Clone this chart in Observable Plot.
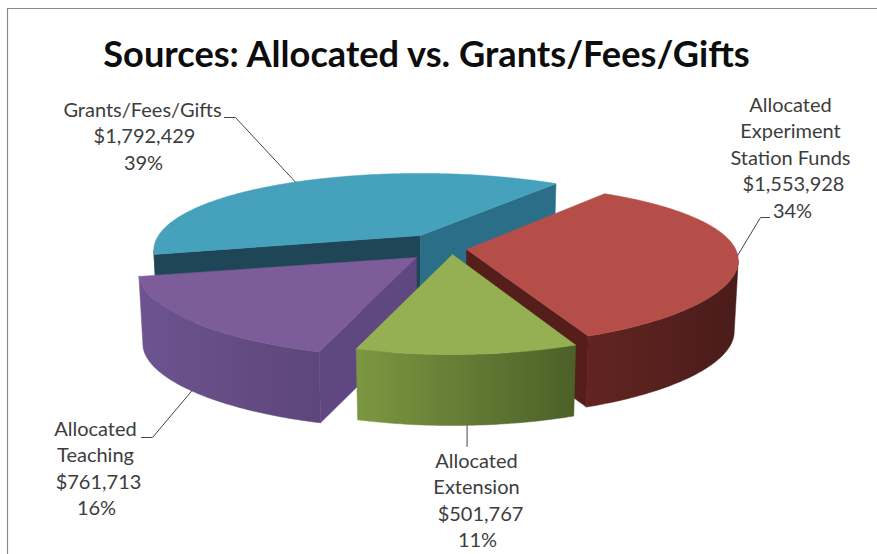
<!DOCTYPE html>
<html>
<head>
<meta charset="utf-8">
<script src="https://cdn.jsdelivr.net/npm/d3@7"></script>
<script src="https://cdn.jsdelivr.net/npm/@observablehq/plot@0.6"></script>
<style>html,body{margin:0;padding:0;background:#fff}svg{display:block}</style>
</head>
<body>
<div id="chart"></div>
<script>
// ---- data ----
const categories = ["Allocated Experiment Station Funds", "Allocated Extension", "Allocated Teaching", "Grants/Fees/Gifts"];
const amounts = [1553928, 501767, 761713, 1792429];
const percents = ["34%", "11%", "16%", "39%"];
const nameLines = [["Allocated", "Experiment", "Station Funds"], ["Allocated", "Extension"], ["Allocated", "Teaching"], ["Grants/Fees/Gifts"]];
const titleText = "Sources: Allocated vs. Grants/Fees/Gifts";

// ---- layout and style of the 3-D pie ----
const W = 877, H = 554;
const startAngle = -53.5;         // first slice start, degrees clockwise from 3 o'clock
const RY = 76.6, PERSP_Y = 0.234, PERSP_X = 0.187, DEPTH = 71, BOTTOM_SHRINK = 0.985;
const radiusX = [267, 270, 273, 262];
const arcLift = [-4, 0, 0, 0];    // vertical shift of a slice's rim relative to its apex
const apex = [[466, 249], [452, 254], [416, 257], [420, 235]];
const topFill = ["#b54e48", "#94b053", "#7c5c99", "#46a1bd"];
const wallFrom = ["#632421", "#7c9741", "#6d5390", "#1f4a5a"];
const wallTo = ["#491c1a", "#4c6028", "#5d4679", "#1f4a5a"];
const startFace = ["#561e1b", "#5c7030", "#5f4781", "#1e4656"];
const endFace = ["#561e1b", "#5c7030", "#5f4781", "#2b6e88"];
const labelPos = [[790, 105], [476, 461], [95, 429], [142, 110]];
const lineOffsets = [[0, 0, 0, 3, 2], [0, 0, 4, 1], [0, 0, 3, 1], [0, 2, 1]];
const leaderMid = [[760, 217], [null, 446], [152, 437], [235, 117]];
const leaderEnd = [[769, 217], [null, 446], [141, 437], [224, 117]];

// ---- geometry from the values ----
const total = d3.sum(amounts);
const project = (i, deg, down = 0) => {
  const a = deg * Math.PI / 180, u = Math.cos(a), v = Math.sin(a);
  const k = down ? BOTTOM_SHRINK : 1;
  return {
    x: apex[i][0] + k * radiusX[i] * u / (1 - PERSP_X * v),
    y: apex[i][1] + arcLift[i] + RY * v / (1 - PERSP_Y * v) + down
  };
};
let cursor = startAngle;
const slices = amounts.map((value, i) => {
  const a0 = cursor, a1 = cursor + value / total * 360;
  cursor = a1;
  return {i, a0, a1, mid: (a0 + a1) / 2};
});
const arc = (i, a0, a1, down = 0) => {
  const n = Math.max(2, Math.ceil(Math.abs(a1 - a0)));
  return d3.range(n + 1).map(k => project(i, a0 + (a1 - a0) * k / n, down));
};
const centre = i => ({x: apex[i][0], y: apex[i][1]});

const polyMark = (pts, fill) => Plot.line([...pts, pts[0]], {x: "x", y: "y", fill, stroke: fill, strokeWidth: 0.5, curve: "linear"});

// the rim turns away from the viewer where its projected x is largest
const silhouette = Math.asin(PERSP_X) * 180 / Math.PI;

function sliceMarks(s) {
  const {i, a0, a1} = s, out = [];
  for (const [lo, hi] of [[silhouette, 180 - silhouette], [360 + silhouette, 540 - silhouette]]) {
    const f = Math.max(a0, lo), t = Math.min(a1, hi);
    if (t > f) out.push(polyMark([...arc(i, f, t), ...arc(i, f, t, DEPTH).reverse()], `url(#wall${i})`));
  }
  // cut faces
  const c = centre(i), cb = {x: c.x, y: c.y + DEPTH};
  if (Math.cos(a0 * Math.PI / 180) < 0) out.push(polyMark([c, project(i, a0), project(i, a0, DEPTH), cb], startFace[i]));
  if (Math.cos(a1 * Math.PI / 180) > 0) out.push(polyMark([c, project(i, a1), project(i, a1, DEPTH), cb], endFace[i]));
  // top
  out.push(polyMark([c, ...arc(i, a0, a1)], topFill[i]));
  return out;
}

// painter's order: back slice first, front slice last
const drawOrder = [3, 0, 2, 1];

// ---- labels ----
const labelRows = categories.flatMap((c, i) => {
  const lines = [...nameLines[i], "$" + d3.format(",")(amounts[i]), percents[i]];
  return lines.map((text, k) => ({text, x: labelPos[i][0] + lineOffsets[i][k], y: labelPos[i][1] + k * 26.4}));
});
const leaders = slices.flatMap(s => {
  const front = Math.sin(s.mid * Math.PI / 180) > 0.3;
  const p = project(s.i, s.mid, front ? DEPTH : 0);
  const m = leaderMid[s.i], e = leaderEnd[s.i];
  return [
    {id: s.i, x: p.x, y: p.y},
    {id: s.i, x: m[0] ?? p.x, y: m[1]},
    {id: s.i, x: e[0] ?? p.x, y: e[1]}
  ];
});

const defs = () => {
  const d = d3.create("svg:defs");
  topFill.forEach((_, i) => {
    const g = d.append("linearGradient").attr("id", `wall${i}`).attr("x1", 0).attr("x2", 1).attr("y1", 0).attr("y2", 0);
    g.append("stop").attr("offset", 0).attr("stop-color", wallFrom[i]);
    g.append("stop").attr("offset", 1).attr("stop-color", wallTo[i]);
  });
  return d.node();
};

const chart = Plot.plot({
  width: W, height: H, margin: 0,
  style: {background: "#fff", fontFamily: "Lato, sans-serif"},
  x: {domain: [0, W], range: [0, W], axis: null},
  y: {domain: [0, H], range: [0, H], axis: null},
  marks: [
    defs,
    Plot.ruleX([7], {y1: 8, y2: H, stroke: "#8a8a8a", strokeWidth: 1.2}),
    Plot.ruleY([8], {x1: 7, x2: W, stroke: "#8a8a8a", strokeWidth: 1.2}),
    ...drawOrder.flatMap(i => sliceMarks(slices[i])),
    Plot.line(leaders, {x: "x", y: "y", z: "id", stroke: "#444", strokeWidth: 1, curve: "linear"}),
    Plot.text(labelRows, {x: "x", y: "y", text: "text", fontSize: 20, fill: "#3d3d3d", textAnchor: "middle", fontFamily: "Lato, sans-serif"}),
    Plot.text([titleText], {x: () => 426, y: () => 55, text: d => d, fontSize: 36.2, fontWeight: 700, fill: "#0d0d0d", textAnchor: "middle", fontFamily: "Lato, sans-serif"})
  ]
});
document.getElementById("chart").append(chart);
</script>
</body>
</html>
